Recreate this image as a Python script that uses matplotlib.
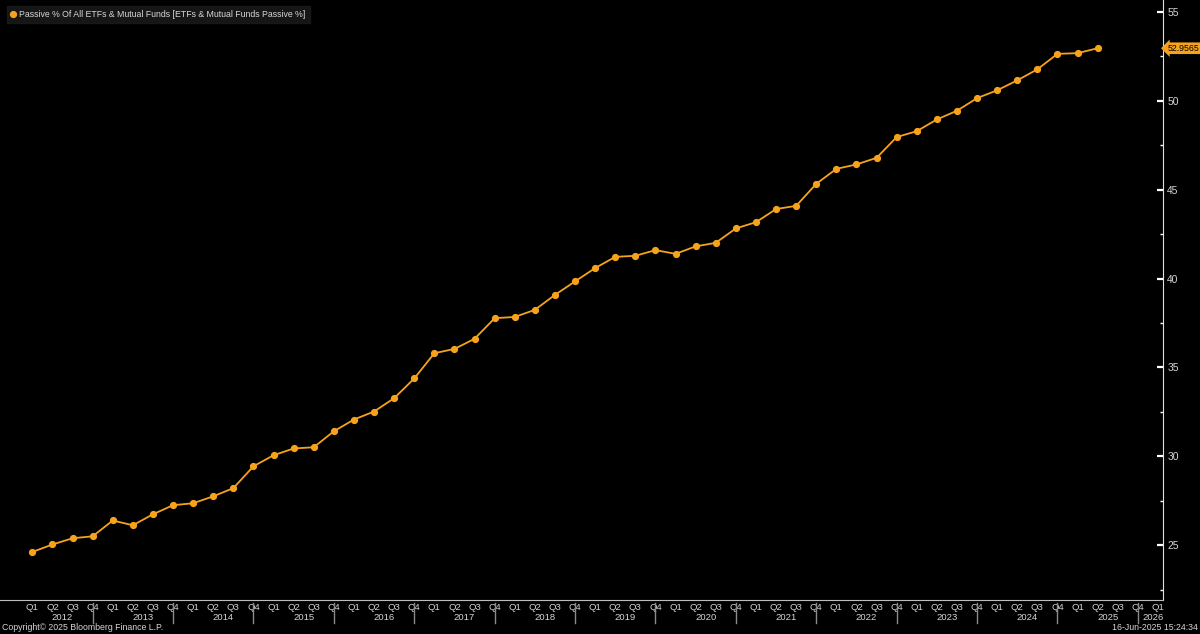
import matplotlib.pyplot as plt

# Passive share of ETFs & mutual funds, quarterly Q1 2012 .. Q2 2025
passive_pct = [
    24.62, 25.04, 25.39, 25.50,
    26.39, 26.12, 26.74, 27.25,
    27.36, 27.75, 28.21, 29.44,
    30.06, 30.44, 30.51, 31.41,
    32.07, 32.52, 33.27, 34.38,
    35.80, 36.04, 36.61, 37.77,
    37.84, 38.24, 39.08, 39.84,
    40.59, 41.22, 41.28, 41.60,
    41.39, 41.81, 42.01, 42.82,
    43.17, 43.91, 44.09, 45.33,
    46.17, 46.42, 46.79, 47.96,
    48.29, 48.95, 49.44, 50.15,
    50.59, 51.15, 51.77, 52.64,
    52.68, 52.9565,
]
years = list(range(2012, 2027))
quarters = ["Q1", "Q2", "Q3", "Q4"]
y_ticks = [25, 30, 35, 40, 45, 50, 55]
series_name = "Passive % Of All ETFs & Mutual Funds [ETFs & Mutual Funds Passive %]"

orange = "#f7a21b"
txt = "#d6d6d6"
fs = 6.3
plt.rcParams["font.family"] = ["Liberation Sans", "DejaVu Sans"]

fig = plt.figure(figsize=(12, 6.34), dpi=100, facecolor="black")
ax = fig.add_axes([0, 1 - 600.3 / 634, 1163 / 1200, 600.3 / 634])
ax.set_facecolor("black")

x = list(range(len(passive_pct)))
ax.plot(x, passive_pct, color=orange, lw=1.3, marker="o", ms=4.2,
        label=series_name)

ax.set_xlim(-1.61, 56.25)
ax.set_ylim(21.9, 55.67)

# y axis on the right
ax.yaxis.tick_right()
ax.set_yticks(y_ticks)
ax.set_yticks([v + 2.5 for v in [20] + y_ticks[:-1]], minor=True)
ax.tick_params(axis="y", which="major", direction="in", length=4, width=1.6,
               colors="white", labelcolor=txt, labelsize=7.4, pad=3)
ax.tick_params(axis="y", which="minor", direction="in", length=2, width=1,
               colors="white")

# quarter tick labels
n_q = (years[-1] - years[0]) * 4 + 1
ax.set_xticks(range(n_q))
ax.set_xticklabels([quarters[i % 4] for i in range(n_q)])
ax.tick_params(axis="x", length=0, labelcolor=txt, labelsize=6.8, pad=2)

for s in ["top", "left"]:
    ax.spines[s].set_visible(False)
ax.spines["right"].set_color("#e0e0e0")
ax.spines["bottom"].set_color("#bdbdbd")

# year labels and separators
trans = ax.get_xaxis_transform()
for k, yr in enumerate(years):
    xc = 4 * k + 1.5 if yr < years[-1] else 55.75
    ax.text(xc, -0.029, str(yr), transform=trans, ha="center", va="center",
            color=txt, fontsize=6.8)
    if yr < years[-1]:
        ax.plot([4 * k + 3] * 2, [-0.005, -0.037], transform=trans,
                color="#8a8a8a", lw=1, clip_on=False)

# last value tag
ax.annotate(f"{passive_pct[-1]:.4f}", xy=(1, passive_pct[-1]),
            xycoords=ax.get_yaxis_transform(), xytext=(3, 0),
            textcoords="offset points", ha="left", va="center",
            fontsize=fs, color="black",
            bbox=dict(boxstyle="larrow,pad=0.15", fc=orange, ec="none"))

leg = ax.legend(loc="upper left", bbox_to_anchor=(0.002, 0.997),
                frameon=True, fancybox=False, facecolor="#1c1c1c",
                edgecolor="#1c1c1c", fontsize=fs, handlelength=0.6,
                handletextpad=0.4, borderpad=0.45, labelcolor=txt)
leg.get_lines()[0].set_linestyle("none")

fig.text(2 / 1200, 1 - 628 / 634, "Copyright\u00a9 2025 Bloomberg Finance L.P.",
         color=txt, fontsize=fs, ha="left", va="center")
fig.text(1198 / 1200, 1 - 628 / 634, "16-Jun-2025 15:24:34",
         color=txt, fontsize=fs, ha="right", va="center")

fig.savefig("out.png", dpi=100, facecolor="black")
